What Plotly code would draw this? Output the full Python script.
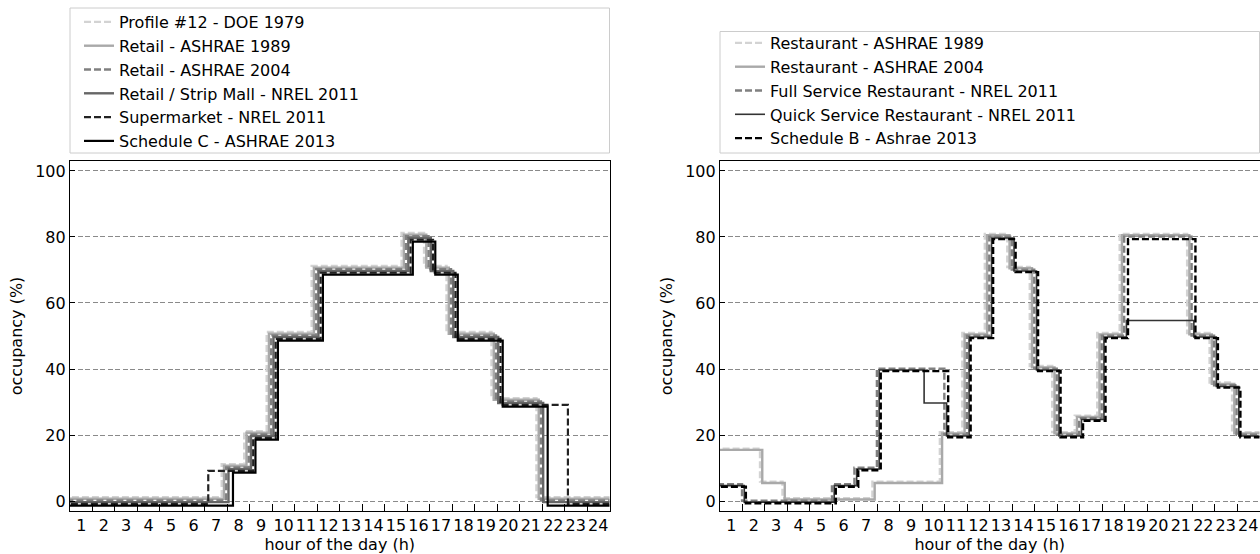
import plotly.graph_objects as go

# Hourly occupancy schedules (%), hour 1 .. hour 24
hours = list(range(1, 25))
hour_labels = [str(h) for h in hours]

# Retail schedules
retail_names = [
    "Profile #12 - DOE 1979",
    "Retail - ASHRAE 1989",
    "Retail - ASHRAE 2004",
    "Retail / Strip Mall - NREL 2011",
    "Supermarket - NREL 2011",
    "Schedule C - ASHRAE 2013",
]
doe_1979 = [0, 0, 0, 0, 0, 0, 0, 10, 20, 50, 50, 70, 70, 70, 70, 80, 70, 50, 50, 30, 30, 0, 0, 0]
retail_ashrae_1989 = [0, 0, 0, 0, 0, 0, 0, 10, 20, 50, 50, 70, 70, 70, 70, 80, 70, 50, 50, 30, 30, 0, 0, 0]
retail_ashrae_2004 = [0, 0, 0, 0, 0, 0, 0, 10, 20, 50, 50, 70, 70, 70, 70, 80, 70, 50, 50, 30, 30, 0, 0, 0]
strip_mall_nrel_2011 = [0, 0, 0, 0, 0, 0, 0, 10, 20, 50, 50, 70, 70, 70, 70, 80, 70, 50, 50, 30, 30, 0, 0, 0]
supermarket_nrel_2011 = [0, 0, 0, 0, 0, 0, 10, 10, 20, 50, 50, 70, 70, 70, 70, 80, 70, 50, 50, 30, 30, 30, 0, 0]
schedule_c_ashrae_2013 = [0, 0, 0, 0, 0, 0, 0, 10, 20, 50, 50, 70, 70, 70, 70, 80, 70, 50, 50, 30, 30, 0, 0, 0]
retail_series = [doe_1979, retail_ashrae_1989, retail_ashrae_2004,
                 strip_mall_nrel_2011, supermarket_nrel_2011, schedule_c_ashrae_2013]

# Restaurant schedules
restaurant_names = [
    "Restaurant - ASHRAE 1989",
    "Restaurant - ASHRAE 2004",
    "Full Service Restaurant - NREL 2011",
    "Quick Service Restaurant - NREL 2011",
    "Schedule B - Ashrae 2013",
]
restaurant_ashrae_1989 = [15, 15, 5, 0, 0, 0, 0, 5, 5, 5, 20, 50, 80, 70, 40, 20, 25, 50, 80, 80, 80, 50, 35, 20]
restaurant_ashrae_2004 = [15, 15, 5, 0, 0, 0, 0, 5, 5, 5, 20, 50, 80, 70, 40, 20, 25, 50, 80, 80, 80, 50, 35, 20]
full_service_nrel_2011 = [5, 0, 0, 0, 0, 5, 10, 40, 40, 40, 20, 50, 80, 70, 40, 20, 25, 50, 80, 80, 80, 50, 35, 20]
quick_service_nrel_2011 = [5, 0, 0, 0, 0, 5, 10, 40, 40, 30, 20, 50, 80, 70, 40, 20, 25, 50, 55, 55, 55, 50, 35, 20]
schedule_b_ashrae_2013 = [5, 0, 0, 0, 0, 5, 10, 40, 40, 40, 20, 50, 80, 70, 40, 20, 25, 50, 80, 80, 80, 50, 35, 20]
restaurant_series = [restaurant_ashrae_1989, restaurant_ashrae_2004, full_service_nrel_2011,
                     quick_service_nrel_2011, schedule_b_ashrae_2013]

# Styles (light -> dark); small shifts keep overlapping curves visible
DASHED = "7px,3px"
retail_style = [
    ("#d3d3d3", DASHED, 2.4),
    ("#a9a9a9", "solid", 2.4),
    ("#808080", DASHED, 2.4),
    ("#666666", "solid", 2.4),
    ("#222222", DASHED, 2.2),
    ("#000000", "solid", 2.2),
]
retail_dx = [-0.25, -0.15, -0.05, 0.05, 0.15, 0.25]
retail_dy = [1.2, 0.7, 0.2, -0.3, -0.85, -1.4]

restaurant_style = [
    ("#d3d3d3", DASHED, 2.4),
    ("#a9a9a9", "solid", 2.4),
    ("#808080", DASHED, 2.4),
    ("#333333", "solid", 1.6),
    ("#000000", DASHED, 2.4),
]
restaurant_dx = [-0.22, -0.12, -0.02, 0.08, 0.15]
restaurant_dy = [0.9, 0.5, 0.1, -0.3, -0.65]

FONT = "DejaVu Sans"
FS = 16


def step_xy(values, dx, dy):
    # hour h spans [h-1, h]; pad both ends so the curve reaches the frame
    xs = [-1] + [h - 1 for h in hours] + [24, 25]
    ys = [values[0]] + list(values) + [values[-1], values[-1]]
    return [x + dx for x in xs], [y + dy for y in ys]


fig = go.Figure()

for i, (name, vals) in enumerate(zip(retail_names, retail_series)):
    c, d, w = retail_style[i]
    xs, ys = step_xy(vals, retail_dx[i], retail_dy[i])
    fig.add_trace(go.Scatter(
        x=xs, y=ys, mode="lines", name=name, line=dict(color=c, dash=d, width=w, shape="hv"),
        xaxis="x", yaxis="y", legend="legend", legendgroup="r%d" % i, hoverinfo="skip"))

for i, (name, vals) in enumerate(zip(restaurant_names, restaurant_series)):
    c, d, w = restaurant_style[i]
    xs, ys = step_xy(vals, restaurant_dx[i], restaurant_dy[i])
    fig.add_trace(go.Scatter(
        x=xs, y=ys, mode="lines", name=name, line=dict(color=c, dash=d, width=w, shape="hv"),
        xaxis="x2", yaxis="y2", legend="legend2", legendgroup="q%d" % i, hoverinfo="skip"))

W, H = 1260, 554
left_dom = [70 / W, 609.5 / W]
right_dom = [720 / W, 1259.5 / W]
y_dom = [(H - 511) / H, (H - 161) / H]


def xaxis_cfg(domain, anchor):
    return dict(
        domain=domain, anchor=anchor, range=[0, 24],
        tickmode="array", tickvals=[h - 0.5 for h in hours], ticktext=hour_labels,
        ticks="", showgrid=False, zeroline=False,
        showline=True, mirror=True, linecolor="black", linewidth=1.2,
        tickfont=dict(family=FONT, size=FS, color="black"),
        minor=dict(tickmode="array", tickvals=list(range(1, 24)), ticks="inside",
                   ticklen=7, tickwidth=1, tickcolor="black", showgrid=False),
        title=dict(text="hour of the day (h)", font=dict(family=FONT, size=FS, color="black"), standoff=5),
    )


def yaxis_cfg(anchor):
    return dict(
        domain=y_dom, anchor=anchor, range=[-3, 103],
        tickmode="array", tickvals=[0, 20, 40, 60, 80, 100],
        ticks="inside", ticklen=5, tickwidth=1, tickcolor="black",
        showgrid=True, gridcolor="#8a8a8a", gridwidth=1, griddash="5px,2.5px",
        zeroline=False, showline=True, mirror=True, linecolor="black", linewidth=1.2,
        tickfont=dict(family=FONT, size=FS, color="black"),
        title=dict(text="occupancy (%)", font=dict(family=FONT, size=FS, color="black"), standoff=8),
    )


legend_common = dict(
    bgcolor="rgba(0,0,0,0)", borderwidth=0, tracegroupgap=0,
    font=dict(family=FONT, size=FS, color="black"),
    xanchor="left", yanchor="top", itemclick=False, itemdoubleclick=False,
)

fig.update_layout(
    width=W, height=H, margin=dict(l=0, r=0, t=0, b=0),
    paper_bgcolor="white", plot_bgcolor="white",
    xaxis=xaxis_cfg(left_dom, "y"), yaxis=yaxis_cfg("x"),
    xaxis2=xaxis_cfg(right_dom, "y2"), yaxis2=yaxis_cfg("x2"),
    legend=dict(x=79 / W, y=1 - 5 / H, **legend_common),
    legend2=dict(x=730 / W, y=1 - 26 / H, **legend_common),
    showlegend=True,
    shapes=[
        dict(type="rect", xref="paper", yref="paper", x0=70 / W, x1=609.5 / W,
             y0=1 - 153 / H, y1=1 - 8 / H, line=dict(color="#cccccc", width=1), layer="below"),
        dict(type="rect", xref="paper", yref="paper", x0=720 / W, x1=1259.5 / W,
             y0=1 - 153 / H, y1=1 - 31.5 / H, line=dict(color="#cccccc", width=1), layer="below"),
    ],
)

fig.write_html("out.html")
